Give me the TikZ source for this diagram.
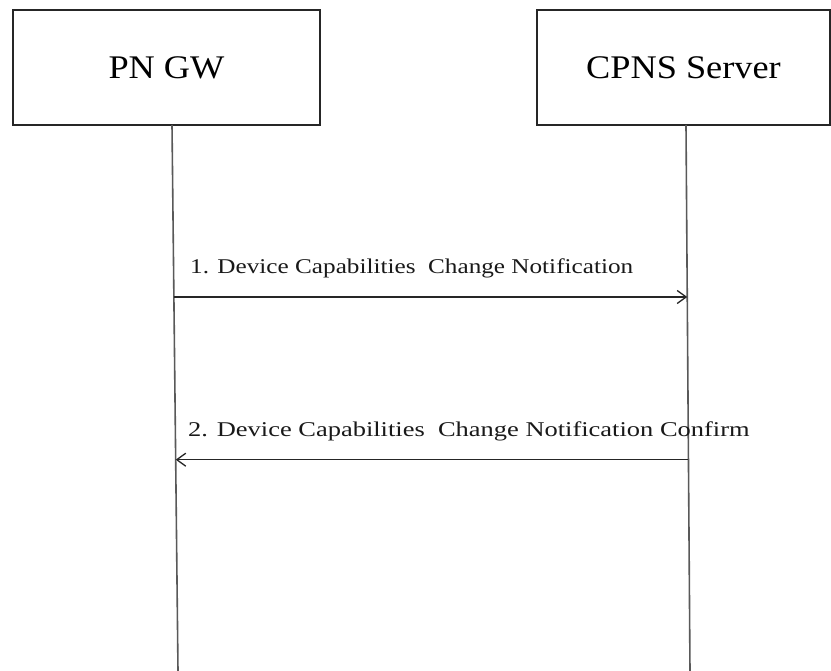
\documentclass[tikz,border=0pt]{standalone}
\usepackage{fontspec}
\setmainfont{Liberation Serif}
\newfontfamily\widefont[FakeStretch=1.2]{Liberation Serif}
\newfontfamily\titlefont[FakeStretch=1.1]{Liberation Serif}
\usetikzlibrary{arrows.meta,calc}
\begin{document}
\begin{tikzpicture}[x=1pt,y=-1pt,
  entity/.style={draw=black!85,line width=1.8pt,minimum width=#1,minimum height=115pt,inner sep=0pt,
    font=\titlefont\fontsize{33}{36}\selectfont},
  life/.style={draw=black!65,line width=1.6pt},
  msg/.style={draw=black!85,line width=1.4pt,-{Straight Barb[length=9pt,width=13pt,line width=1.3pt]}},
  lbl/.style={anchor=west,inner sep=0pt,font=\widefont\fontsize{21}{24}\selectfont,text=black!90}]
\useasboundingbox (0,0) rectangle (831,671);
\fill[white] (0,0) rectangle (831,671);
\node[entity=307pt] (pn) at (166.5,67.5) {PN GW};
\node[entity=293pt] (cp) at (683.5,67.5) {CPNS Server};
\coordinate (lt) at (172,125);
\coordinate (lb) at (178,671);
\coordinate (rt) at (686,125);
\coordinate (rb) at (690,671);
\draw[life] (lt) -- (lb);
\draw[life] (rt) -- (rb);
\coordinate (m1s) at ($(lt)!0.315!(lb)$);
\coordinate (m1e) at ($(rt)!0.315!(rb)$);
\coordinate (m2s) at ($(rt)!0.613!(rb)$);
\coordinate (m2e) at ($(lt)!0.613!(lb)$);
\draw[msg] (m1s) -- (m1e);
\draw[msg] (m2s) -- (m2e);
\node[lbl] (l1) at (190,268) {1. Device Capabilities\ \ Change Notification};
\node[lbl] (l2) at (188,431) {\scalebox{1.05}[1]{2. Device Capabilities\ \ Change Notification Confirm}};
\end{tikzpicture}
\end{document}
